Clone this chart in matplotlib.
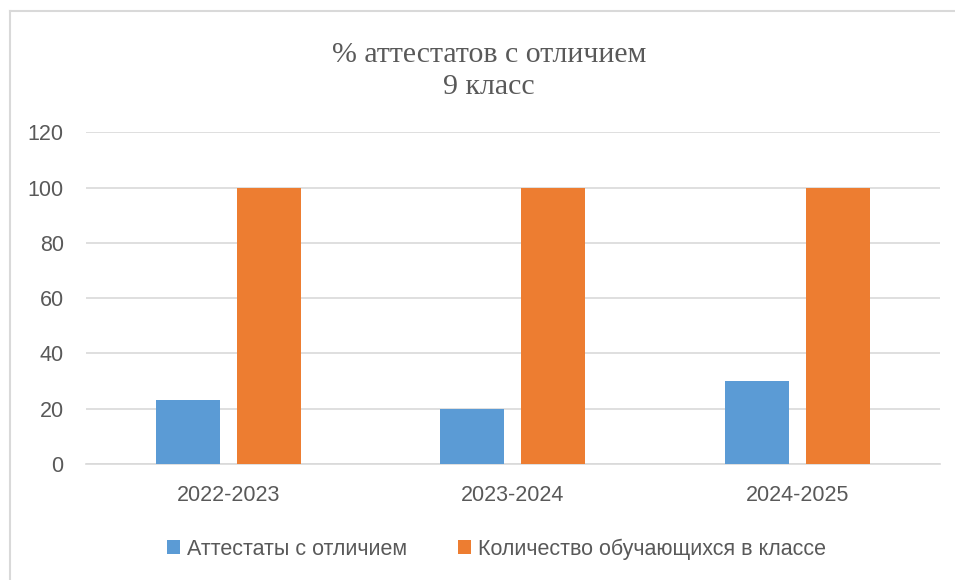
import numpy as np
import matplotlib
matplotlib.use("Agg")
import matplotlib.pyplot as plt
from matplotlib.lines import Line2D

years = ["2022-2023", "2023-2024", "2024-2025"]
honors = [23, 20, 30]
students = [100, 100, 100]
series_names = ["Аттестаты с отличием", "Количество обучающихся в классе"]
title = "% аттестатов с отличием\n9 класс"

BLUE = "#5B9BD5"
ORANGE = "#ED7D31"
GREY = "#595959"
GRID = "#D9D9D9"

plt.rcParams['font.family'] = ['Liberation Sans', 'DejaVu Sans']

fig = plt.figure(figsize=(9.55, 5.8), dpi=100)
ax = fig.add_axes([0.090, 0.2, 0.894, 0.572])

x = np.arange(len(years))
w = 0.225
off = 0.142
ax.bar(x - off, honors, w, color=BLUE, label=series_names[0], zorder=3)
ax.bar(x + off, students, w, color=ORANGE, label=series_names[1], zorder=3)

ax.set_xlim(-0.5, 2.5)
ax.set_ylim(0, 120)
ax.set_yticks(range(0, 121, 20))
ax.set_xticks(x)
ax.set_xticklabels(years)
ax.yaxis.grid(True, color=GRID, linewidth=1.2, zorder=0)
ax.tick_params(axis='both', length=0, labelsize=15.5, colors=GREY)
ax.tick_params(axis='y', pad=16)
ax.tick_params(axis='x', pad=15)
for s in ['top', 'right', 'left']:
    ax.spines[s].set_visible(False)
ax.spines['bottom'].set_color(GRID)
ax.spines['bottom'].set_linewidth(1.2)

fig.text(0.512, 0.878, title, ha='center', va='center', fontsize=21.5,
         family=['Liberation Serif', 'DejaVu Serif'], color=GREY, linespacing=1.3)

leg = fig.legend(loc='center', bbox_to_anchor=(0.52, 0.053), ncol=2, frameon=False,
                 fontsize=15.5, handlelength=0.6, handleheight=0.6, handletextpad=0.3,
                 columnspacing=2.4)
for t in leg.get_texts():
    t.set_color(GREY)

# chart frame (left and top edges visible)
fig.add_artist(Line2D([0.0105, 0.0105], [0, 0.981], color=GRID, linewidth=1.5, transform=fig.transFigure))
fig.add_artist(Line2D([0.0105, 1.0], [0.981, 0.981], color=GRID, linewidth=1.5, transform=fig.transFigure))

fig.savefig("out.png", dpi=100)
